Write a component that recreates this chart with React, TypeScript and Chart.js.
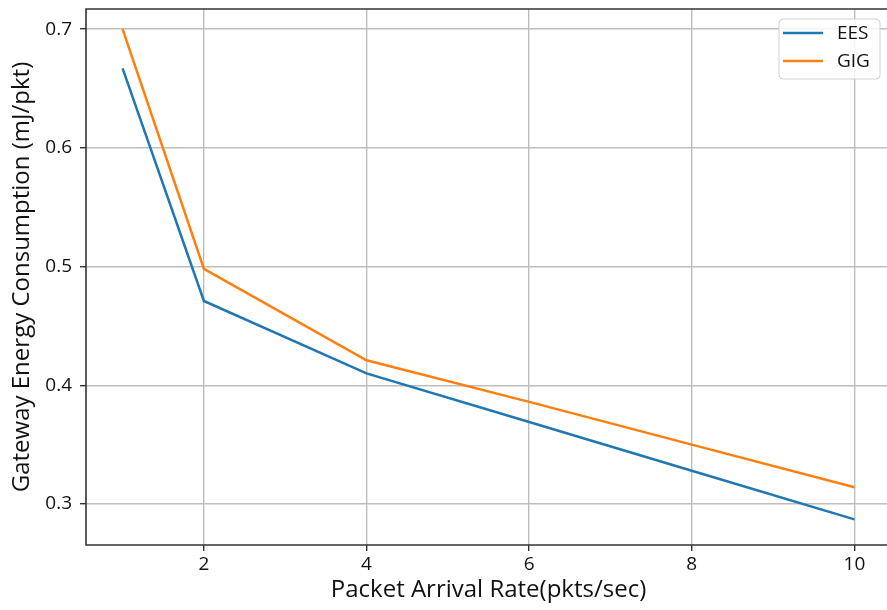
import React, { useEffect, useRef } from "react";
import { Chart, registerables } from "chart.js";

Chart.register(...registerables);

const xValues = [1, 2, 4, 6, 8, 10];
const eesValues = [0.667, 0.471, 0.41, 0.369, 0.328, 0.287];
const gigValues = [0.7, 0.498, 0.421, 0.386, 0.35, 0.314];
const xTicks = [2, 4, 6, 8, 10];
const yTicks = [0.3, 0.4, 0.5, 0.6, 0.7];
const seriesLabels = ["EES", "GIG"];
const seriesColors = ["#1f77b4", "#ff7f0e"];
const xTitle = "Packet Arrival Rate(pkts/sec)";
const yTitle = "Gateway Energy Consumption (mJ/pkt)";

const FONT = "'Open Sans', 'DejaVu Sans', sans-serif";

const framePlugin = {
  id: "frame",
  afterDraw(chart: any) {
    const { ctx, chartArea } = chart;
    const { left, right, top, bottom } = chartArea;
    ctx.save();
    ctx.strokeStyle = "#333333";
    ctx.lineWidth = 1.6;
    ctx.beginPath();
    ctx.moveTo(right, top);
    ctx.lineTo(left, top);
    ctx.lineTo(left, bottom);
    ctx.lineTo(right, bottom);
    ctx.stroke();
    ctx.restore();

    // legend inside axes, upper right
    const boxLeft = 779;
    const boxTop = top + 10;
    const boxW = 101;
    const boxH = 60;
    ctx.save();
    ctx.beginPath();
    ctx.roundRect(boxLeft, boxTop, boxW, boxH, 4);
    ctx.fillStyle = "rgba(255,255,255,0.85)";
    ctx.fill();
    ctx.strokeStyle = "#d0d0d0";
    ctx.lineWidth = 1;
    ctx.stroke();
    ctx.font = `19px ${FONT}`;
    ctx.textBaseline = "middle";
    ctx.textAlign = "left";
    chart.data.datasets.forEach((ds: any, i: number) => {
      const y = boxTop + 14 + i * 28;
      ctx.beginPath();
      ctx.strokeStyle = ds.borderColor;
      ctx.lineWidth = 2.5;
      ctx.moveTo(boxLeft + 4, y);
      ctx.lineTo(boxLeft + 44, y);
      ctx.stroke();
      ctx.fillStyle = "#111111";
      ctx.fillText(ds.label, boxLeft + 58, y + 1);
    });
    ctx.restore();
  },
};

export default function App() {
  const canvasRef = useRef<HTMLCanvasElement | null>(null);

  useEffect(() => {
    if (!canvasRef.current) return;
    const toPts = (ys: number[]) => xValues.map((x, i) => ({ x, y: ys[i] }));
    const chart = new Chart(canvasRef.current, {
      type: "line",
      data: {
        datasets: [
          {
            label: seriesLabels[0],
            data: toPts(eesValues),
            borderColor: seriesColors[0],
            backgroundColor: seriesColors[0],
            borderWidth: 2.5,
            pointRadius: 0,
            tension: 0,
          },
          {
            label: seriesLabels[1],
            data: toPts(gigValues),
            borderColor: seriesColors[1],
            backgroundColor: seriesColors[1],
            borderWidth: 2.5,
            pointRadius: 0,
            tension: 0,
          },
        ],
      },
      options: {
        animation: false,
        responsive: false,
        maintainAspectRatio: false,
        layout: { padding: { left: 0, top: 9, right: 9, bottom: 0 } },
        plugins: {
          legend: { display: false },
          tooltip: { enabled: false },
        },
        scales: {
          x: {
            type: "linear",
            min: 0.55,
            max: 10.45,
            afterBuildTicks: (scale: any) => {
              scale.ticks = xTicks.map((v) => ({ value: v }));
            },
            afterFit: (scale: any) => {
              scale.height = 65;
              scale.paddingLeft = 0;
              scale.paddingRight = 0;
            },
            border: { display: false },
            grid: {
              color: "#bdbdbd",
              lineWidth: 1.4,
              drawTicks: true,
              tickLength: 6,
              tickColor: "#333333",
              tickWidth: 1.4,
            },
            ticks: {
              color: "#111111",
              font: { family: FONT, size: 19 },
              padding: 2,
              maxRotation: 0,
              callback: (v: any) => String(v),
            },
            title: {
              display: true,
              text: xTitle,
              color: "#111111",
              font: { family: FONT, size: 24 },
              padding: { top: 0, bottom: 5 },
            },
          },
          y: {
            type: "linear",
            min: 0.2654,
            max: 0.717,
            afterBuildTicks: (scale: any) => {
              scale.ticks = yTicks.map((v) => ({ value: v }));
            },
            afterFit: (scale: any) => {
              scale.width = 86;
              scale.paddingTop = 0;
              scale.paddingBottom = 0;
            },
            border: { display: false },
            grid: {
              color: "#bdbdbd",
              lineWidth: 1.4,
              drawTicks: true,
              tickLength: 6,
              tickColor: "#333333",
              tickWidth: 1.4,
            },
            ticks: {
              color: "#111111",
              font: { family: FONT, size: 19 },
              padding: 8,
              callback: (v: any) => Number(v).toFixed(1),
            },
            title: {
              display: true,
              text: yTitle,
              color: "#111111",
              font: { family: FONT, size: 24 },
              padding: { top: 8, bottom: 0 },
            },
          },
        },
      },
      plugins: [framePlugin],
    } as any);
    return () => chart.destroy();
  }, []);

  return (
    <div
      style={{
        position: "fixed",
        left: 0,
        top: 0,
        width: 887,
        height: 610,
        overflow: "hidden",
        background: "#ffffff",
      }}
    >
      <canvas ref={canvasRef} width={900} height={610} style={{ display: "block" }} />
    </div>
  );
}
